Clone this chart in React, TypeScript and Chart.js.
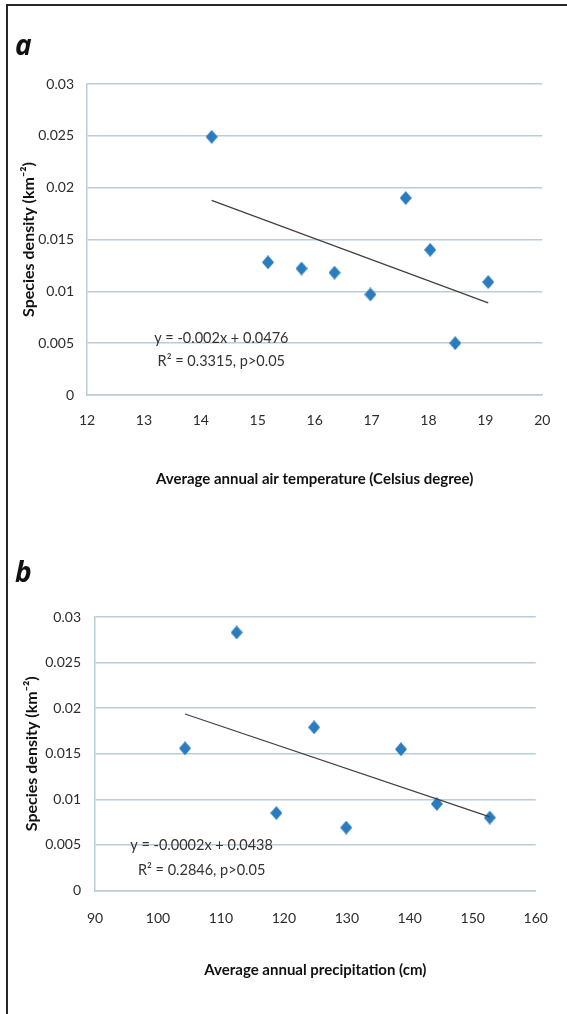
import { useEffect, useRef } from 'react';
import { Chart, registerables } from 'chart.js';

Chart.register(...registerables);

const FONT = "Lato, 'Open Sans', sans-serif";
const LETTER_FONT = "'Open Sans', Lato, sans-serif";

// Panel a: species density vs. average annual air temperature
const tempC = [14.19, 15.18, 15.77, 16.35, 16.98, 17.6, 18.03, 18.47, 19.05];
const densityA = [0.0249, 0.0128, 0.0122, 0.0118, 0.0097, 0.019, 0.014, 0.005, 0.0109];
const tempTicks = [12, 13, 14, 15, 16, 17, 18, 19, 20];
const equationA = ['y = -0.002x + 0.0476', 'R\u00b2 = 0.3315, p>0.05'];

// Panel b: species density vs. average annual precipitation
const precipCm = [104.3, 112.5, 118.8, 124.8, 129.9, 138.6, 144.3, 152.7];
const densityB = [0.0156, 0.0283, 0.0085, 0.0179, 0.0069, 0.0155, 0.0095, 0.008];
const precipTicks = [90, 100, 110, 120, 130, 140, 150, 160];
const equationB = ['y = -0.0002x + 0.0438', 'R\u00b2 = 0.2846, p>0.05'];

const densityTicks = [0, 0.005, 0.01, 0.015, 0.02, 0.025, 0.03];
const densityTickLabels = ['0', '0.005', '0.01', '0.015', '0.02', '0.025', '0.03'];

const yTitle = 'Species density (km\u207b\u00b2)';

const MARKER = '#2b7bbf';
const GRID = '#b9ccd8';
const TICK_TEXT = '#2c2c2c';
const TITLE_TEXT = '#111111';

// least-squares line over the observed x range
function trendline(xs: number[], ys: number[]) {
  const n = xs.length;
  const mx = xs.reduce((a, b) => a + b, 0) / n;
  const my = ys.reduce((a, b) => a + b, 0) / n;
  let sxy = 0;
  let sxx = 0;
  for (let i = 0; i < n; i++) {
    sxy += (xs[i] - mx) * (ys[i] - my);
    sxx += (xs[i] - mx) * (xs[i] - mx);
  }
  const slope = sxy / sxx;
  const icpt = my - slope * mx;
  const x0 = Math.min(...xs);
  const x1 = Math.max(...xs);
  return [
    { x: x0, y: icpt + slope * x0 },
    { x: x1, y: icpt + slope * x1 },
  ];
}

function diamond(w: number, h: number, color: string) {
  const c = document.createElement('canvas');
  c.width = w;
  c.height = h;
  const g = c.getContext('2d')!;
  g.fillStyle = color;
  g.beginPath();
  g.moveTo(w / 2, 0);
  g.lineTo(w, h / 2);
  g.lineTo(w / 2, h);
  g.lineTo(0, h / 2);
  g.closePath();
  g.fill();
  return c;
}

// panel letter and regression equation text
const annotate = {
  id: 'annotate',
  afterDatasetsDraw(chart: any, _args: any, opts: any) {
    const { ctx } = chart;
    const xs = chart.scales.x;
    const ys = chart.scales.y;
    ctx.save();
    ctx.fillStyle = '#111';
    ctx.font = `italic bold 28px ${LETTER_FONT}`;
    ctx.textAlign = 'left';
    ctx.textBaseline = 'alphabetic';
    ctx.fillText(opts.panel, opts.panelX, opts.panelY);
    ctx.fillStyle = '#333333';
    ctx.font = `14.5px ${FONT}`;
    ctx.textAlign = 'center';
    ctx.textBaseline = 'middle';
    const cx = xs.getPixelForValue(opts.at[0]);
    const cy = ys.getPixelForValue(opts.at[1]);
    opts.lines.forEach((t: string, i: number) => ctx.fillText(t, cx, cy + i * opts.lineGap));
    ctx.restore();
  },
};

type PanelSpec = {
  xs: number[];
  ys: number[];
  xTicks: number[];
  xTitle: string;
  equation: string[];
  panel: string;
  height: number;
  top: number;
  right: number;
  bottom: number;
  yAxisW: number;
  xAxisH: number;
  yTickPad: number;
  xTickPad: number;
  yTitlePad: number;
  xTitlePad: number;
  panelX: number;
  panelY: number;
  eqAt: [number, number];
  eqGap: number;
};

function makeChart(canvas: HTMLCanvasElement, p: PanelSpec) {
  const marker = diamond(12, 14, MARKER);
  return new Chart(canvas, {
    type: 'scatter',
    data: {
      datasets: [
        {
          type: 'line',
          data: trendline(p.xs, p.ys),
          borderColor: '#404040',
          borderWidth: 1.2,
          pointRadius: 0,
          fill: false,
        } as any,
        {
          data: p.xs.map((x, i) => ({ x, y: p.ys[i] })),
          pointStyle: marker as any,
          pointRadius: 7,
          backgroundColor: MARKER,
          borderColor: MARKER,
        },
      ],
    },
    options: {
      animation: false,
      responsive: false,
      events: [],
      layout: { padding: { left: 0, top: p.top, right: p.right, bottom: p.bottom } },
      plugins: {
        legend: { display: false },
        tooltip: { enabled: false },
        annotate: {
          panel: p.panel,
          panelX: p.panelX,
          panelY: p.panelY,
          lines: p.equation,
          at: p.eqAt,
          lineGap: p.eqGap,
        },
      } as any,
      scales: {
        x: {
          type: 'linear',
          min: p.xTicks[0],
          max: p.xTicks[p.xTicks.length - 1],
          afterBuildTicks: (s: any) => {
            s.ticks = p.xTicks.map((v) => ({ value: v }));
          },
          afterFit: (s: any) => {
            s.height = p.xAxisH;
          },
          grid: { display: false, drawTicks: false },
          border: { display: true, color: GRID, width: 1.5 },
          ticks: {
            padding: p.xTickPad,
            color: TICK_TEXT,
            font: { family: FONT, size: 14 },
            maxRotation: 0,
            callback: (v: any) => String(v),
          },
          title: {
            display: true,
            text: p.xTitle,
            color: TITLE_TEXT,
            font: { family: FONT, size: 15, weight: 'bold' },
            padding: { top: 0, bottom: p.xTitlePad },
          },
        },
        y: {
          type: 'linear',
          min: 0,
          max: 0.03,
          afterBuildTicks: (s: any) => {
            s.ticks = densityTicks.map((v) => ({ value: v }));
          },
          afterFit: (s: any) => {
            s.width = p.yAxisW;
          },
          grid: { color: GRID, lineWidth: 1.5, drawTicks: false },
          border: { display: true, color: GRID, width: 1.5 },
          ticks: {
            padding: p.yTickPad,
            color: TICK_TEXT,
            font: { family: FONT, size: 14 },
            callback: (_v: any, i: number) => densityTickLabels[i],
          },
          title: {
            display: true,
            text: yTitle,
            color: TITLE_TEXT,
            font: { family: FONT, size: 16, weight: 'bold' },
            padding: { top: p.yTitlePad, bottom: 0 },
          },
        },
      },
    },
    plugins: [annotate as any],
  });
}

const panelA: PanelSpec = {
  xs: tempC,
  ys: densityA,
  xTicks: tempTicks,
  xTitle: 'Average annual air temperature (Celsius degree)',
  equation: equationA,
  panel: 'a',
  height: 510,
  top: 84,
  right: 18,
  bottom: 15,
  yAxisW: 87,
  xAxisH: 100,
  yTickPad: 13,
  xTickPad: 16.6,
  yTitlePad: 19,
  xTitlePad: 7,
  panelX: 15,
  panelY: 55,
  eqAt: [14.36, 0.00543],
  eqGap: 23,
};

const panelB: PanelSpec = {
  xs: precipCm,
  ys: densityB,
  xTicks: precipTicks,
  xTitle: 'Average annual precipitation (cm)',
  equation: equationB,
  panel: 'b',
  height: 504,
  top: 107,
  right: 30,
  bottom: 13.5,
  yAxisW: 95,
  xAxisH: 110,
  yTickPad: 14,
  xTickPad: 19.1,
  yTitlePad: 22.4,
  xTitlePad: 21.5,
  panelX: 15,
  panelY: 72,
  eqAt: [106.93, 0.005],
  eqGap: 25,
};

export default function App() {
  const refA = useRef<HTMLCanvasElement>(null);
  const refB = useRef<HTMLCanvasElement>(null);

  useEffect(() => {
    const a = makeChart(refA.current!, panelA);
    const b = makeChart(refB.current!, panelB);
    return () => {
      a.destroy();
      b.destroy();
    };
  }, []);

  return (
    <div style={{ position: 'absolute', left: 0, top: 0, width: 567, height: 1014, background: '#fff', overflow: 'hidden' }}>
      <canvas
        ref={refA}
        width={567}
        height={panelA.height}
        style={{ position: 'absolute', left: 0, top: 0, width: 567, height: panelA.height }}
      />
      <canvas
        ref={refB}
        width={567}
        height={panelB.height}
        style={{ position: 'absolute', left: 0, top: panelA.height, width: 567, height: panelB.height }}
      />
      <div
        style={{
          position: 'absolute',
          left: 6,
          top: 4,
          right: 0,
          bottom: 0,
          borderLeft: '2px solid #262626',
          borderTop: '2px solid #262626',
          pointerEvents: 'none',
        }}
      />
    </div>
  );
}
